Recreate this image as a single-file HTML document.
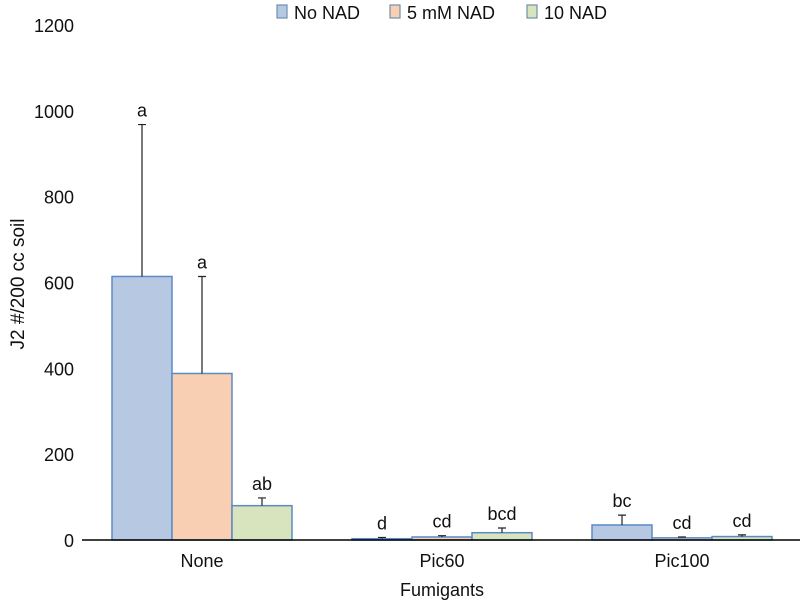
<!DOCTYPE html>
<html><head><meta charset="utf-8"><style>
body{margin:0;background:#fff;}
svg{display:block;font-family:"Liberation Sans",sans-serif;}
</style></head><body>
<svg id="chart" width="800" height="600"></svg>
<script>
const categories=["None","Pic60","Pic100"];
const seriesNames=["No NAD","5 mM NAD","10 NAD"];
const noNad=[614,3,35];
const mm5Nad=[388,7,5];
const nad10=[80,17,8];
const errNoNad=[968,6,58];
const errMm5=[614,10,7];
const errNad10=[98,28,12];
const lettersNoNad=["a","d","bc"];
const lettersMm5=["a","cd","cd"];
const lettersNad10=["ab","bcd","cd"];
const yTicks=[0,200,400,600,800,1000,1200];
const NS="http://www.w3.org/2000/svg";
const svg=document.getElementById('chart');
const fills=["#b7c9e2","#f9cfb4","#d7e4bd"];
const strokes=["#5b8ac6","#5b8ac6","#5b8ac6"];
const x0=82,catW=240,y0=540,yMax=1200,yTop=25;
function y(v){return y0-(v/yMax)*(y0-yTop);}
function cx(i){return x0+catW*i+catW/2;}
function mk(t,a,txt){const e=document.createElementNS(NS,t);for(const k in a)e.setAttribute(k,a[k]);if(txt!==undefined)e.textContent=txt;svg.appendChild(e);return e;}
yTicks.forEach(t=>{const e=mk('text',{x:74,y:y(t)+7,'text-anchor':'end','font-size':18,fill:'#111'},t);

});
const vals=[noNad,mm5Nad,nad10],errs=[errNoNad,errMm5,errNad10],lets=[lettersNoNad,lettersMm5,lettersNad10];
categories.forEach((c,i)=>{
 vals.forEach((s,j)=>{
  const bx=cx(i)-90+60*j;
  const r=mk('rect',{x:bx,y:y(s[i]),width:60,height:y0-y(s[i]),fill:fills[j],stroke:strokes[j],'stroke-width':1.5});
  
  
  const m=bx+30,et=y(errs[j][i]);
  const l=mk('path',{d:`M${m} ${y(s[i])}V${et}M${m-4} ${et}H${m+4}`,stroke:'#222','stroke-width':1.2,fill:'none'});
  
  
  const t=mk('text',{x:m,y:et-8,'text-anchor':'middle','font-size':18,fill:'#111'},lets[j][i]);
  
  
 });
 const t=mk('text',{x:cx(i),y:567,'text-anchor':'middle','font-size':18,fill:'#111'},c);
 
 
});
const ax=mk('line',{x1:x0,x2:800,y1:y0,y2:y0,stroke:'#000','stroke-width':1.5});


const xt=mk('text',{x:442,y:596,'text-anchor':'middle','font-size':18,fill:'#111'},'Fumigants');


const yt=mk('text',{x:0,y:0,'text-anchor':'middle','font-size':19,fill:'#111',transform:'translate(24,284) rotate(-90)'},'J2 #/200 cc soil');


const lx=[277,390,527];
seriesNames.forEach((n,j)=>{
 const r=mk('rect',{x:lx[j],y:5,width:10,height:13,fill:fills[j],stroke:'#6f8fb0','stroke-width':1.2});
 
 
 const t=mk('text',{x:lx[j]+17,y:19,'font-size':18,fill:'#111'},n);
 
 
});
</script>
</body></html>
